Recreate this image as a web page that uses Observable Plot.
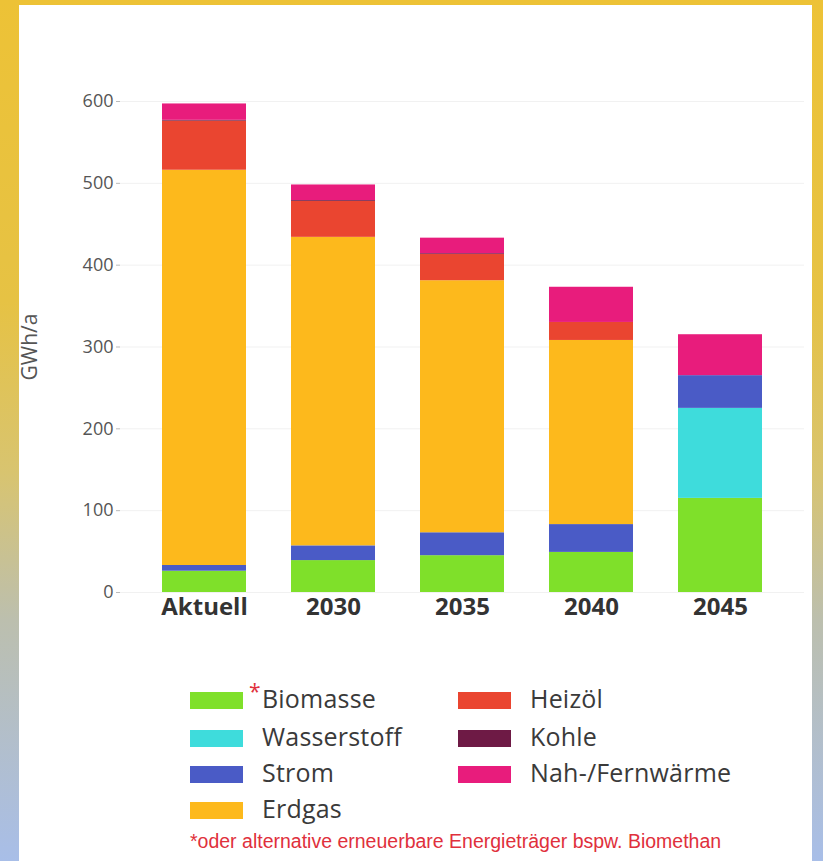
<!DOCTYPE html>
<html><head><meta charset="utf-8">
<script src="https://cdn.jsdelivr.net/npm/d3@7"></script>
<script src="https://cdn.jsdelivr.net/npm/@observablehq/plot@0.6"></script>
<style>
html,body{margin:0;padding:0;}
body{width:823px;height:861px;overflow:hidden;position:relative;
  background:linear-gradient(to bottom,#edc236 0%,#e6c244 35%,#d8c470 55%,#bcbfae 72%,#a8bee8 100%);}
#panel{position:absolute;left:19px;top:5px;width:793px;height:856px;background:#fff;}
#chart{position:absolute;left:0;top:0;}
#chart svg{background:transparent;overflow:visible;}
#chart g[aria-label="y-axis label"], #chart g[aria-label="y-axis label"] text{font-size:21px !important;fill:#555;font-weight:normal;font-family:"Open Sans",sans-serif;}
.sw{position:absolute;width:53px;height:17px;}
.lb{position:absolute;font-family:"Open Sans",sans-serif;font-size:25px;letter-spacing:0.2px;color:#3a3a3a;line-height:1;}
.ast{position:absolute;font-family:"Open Sans",sans-serif;font-size:21px;color:#e0303c;line-height:1;}
#foot{position:absolute;left:190px;top:832px;font-family:"Liberation Sans",Arial,sans-serif;font-size:19.5px;color:#e0303c;white-space:nowrap;line-height:1;}
</style>
</head><body>
<div id="panel"></div>
<div id="chart"></div>
<div id="legend"></div>
<div id="foot"></div>
<script>
const categories = ["Aktuell","2030","2035","2040","2045"];
const carriers = ["Biomasse","Wasserstoff","Strom","Erdgas","Heizöl","Kohle","Nah-/Fernwärme"];
const colors = ["#7fe02a","#3edcdc","#4a5bc6","#fdb91c","#ea4530","#6e1a45","#e81c7c"];
const biomasse   = [26, 39, 45, 49, 115];
const wasserstoff= [0, 0, 0, 0, 110];
const strom      = [7, 18, 28, 34, 40];
const erdgas     = [483, 377, 308, 225, 0];
const heizoel    = [60, 44, 32, 22, 0];
const kohle      = [1, 1, 1, 0, 0];
const fernwaerme = [20, 19, 19, 43, 50];
const yTicks = [0,100,200,300,400,500,600];
const yLabel = "GWh/a";
const footnote = "*oder alternative erneuerbare Energieträger bspw. Biomethan";

const series = [biomasse, wasserstoff, strom, erdgas, heizoel, kohle, fernwaerme];
const data = [];
categories.forEach((c, i) => {
  carriers.forEach((k, j) => data.push({cat: c, carrier: k, value: series[j][i]}));
});

const plot = Plot.plot({
  width: 823,
  height: 640,
  marginTop: 101,
  marginBottom: 48,
  marginLeft: 120,
  marginRight: 19,
  style: {background: "transparent"},
  x: {domain: categories, paddingInner: 0.351, paddingOuter: 0.317},
  y: {domain: [0, 600]},
  color: {domain: carriers, range: colors},
  marks: [
    Plot.gridY(yTicks, {stroke: "#f1f1f1", strokeOpacity: 1}),
    Plot.barY(data, {x: "cat", y: "value", fill: "carrier", order: carriers}),
    Plot.axisY(yTicks, {tickSize: 4, tickPadding: 3, stroke: "#bbb", fill: "#555", fontSize: 18,
      fontFamily: "Open Sans", label: yLabel, labelAnchor: "center", labelArrow: "none", labelOffset: 98}),
    Plot.axisX({tickSize: 0, tickPadding: 5, fontSize: 24, fontWeight: "bold", fill: "#333",
      fontFamily: "Open Sans", label: null})
  ]
});
document.getElementById("chart").appendChild(plot);
d3.select(plot).selectAll('g[aria-label="y-axis label"] text')
  .attr("font-size", 21).attr("fill", "#555").attr("font-family", "Open Sans").attr("font-weight", "normal");

// Legend
const leg = document.getElementById("legend");
const rows = [
  {k: 0, col: 0, row: 0}, {k: 1, col: 0, row: 1}, {k: 2, col: 0, row: 2}, {k: 3, col: 0, row: 3},
  {k: 4, col: 1, row: 0}, {k: 5, col: 1, row: 1}, {k: 6, col: 1, row: 2}
];
const swX = [190, 458], lbX = [262, 530], rowY = [700, 738, 774, 810];
rows.forEach(r => {
  const s = document.createElement("div");
  s.className = "sw";
  s.style.left = swX[r.col] + "px";
  s.style.top = (rowY[r.row] - 8.5) + "px";
  s.style.background = colors[r.k];
  leg.appendChild(s);
  const l = document.createElement("div");
  l.className = "lb";
  l.style.left = lbX[r.col] + "px";
  l.style.top = (rowY[r.row] - 14) + "px";
  l.textContent = carriers[r.k];
  leg.appendChild(l);
});
const a = document.createElement("div");
a.className = "ast"; a.textContent = "*";
a.style.left = "249px"; a.style.top = "681px";
leg.appendChild(a);
document.getElementById("foot").textContent = footnote;
</script>
</body></html>
